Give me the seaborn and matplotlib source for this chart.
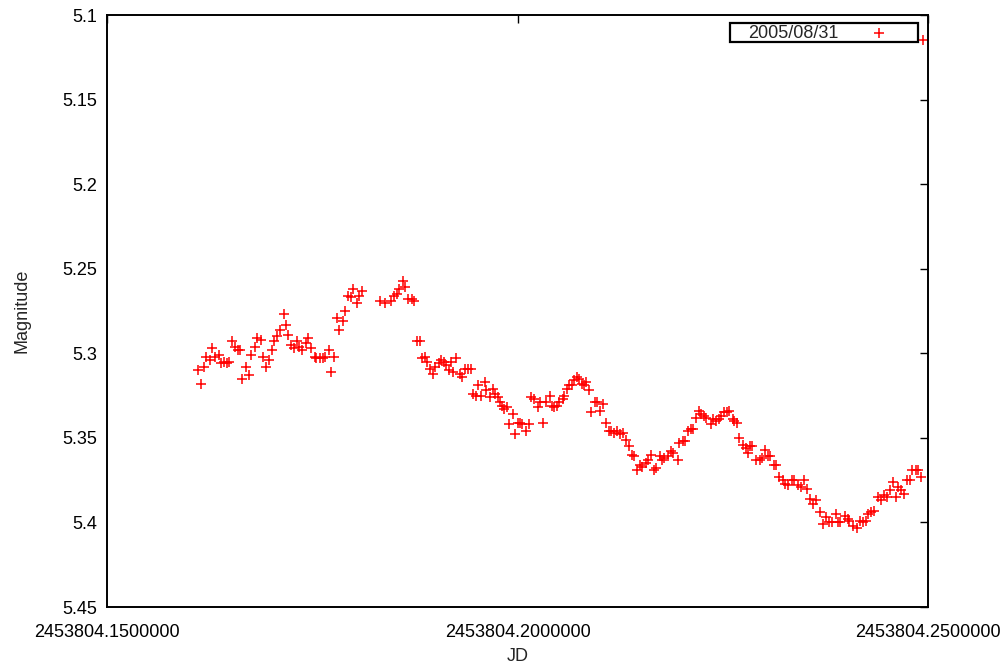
# Import libraries
import numpy as np
import pandas as pd
import matplotlib
matplotlib.use('Agg')
import matplotlib.pyplot as plt
from matplotlib.patches import Rectangle
import seaborn as sns

# Light curve data
jd_base = 2453804.0
jd_offset = [0.1611, 0.1615, 0.1618, 0.1621, 0.1625, 0.1628, 0.1632, 0.1636, 0.1639, 0.1643,
             0.1646, 0.1649, 0.1652, 0.1656, 0.1659, 0.1662, 0.1665, 0.1669, 0.1673, 0.1676,
             0.1680, 0.1683, 0.1687, 0.1690, 0.1694, 0.1697, 0.1701, 0.1704, 0.1707, 0.1711,
             0.1715, 0.1718, 0.1721, 0.1724, 0.1728, 0.1731, 0.1734, 0.1738, 0.1742, 0.1745,
             0.1749, 0.1753, 0.1755, 0.1759, 0.1763, 0.1766, 0.1770, 0.1773, 0.1777, 0.1780,
             0.1783, 0.1787, 0.1790, 0.1793, 0.1797, 0.1800, 0.1804, 0.1807, 0.1811, 0.1832,
             0.1839, 0.1846, 0.1850, 0.1853, 0.1856, 0.1860, 0.1863, 0.1867, 0.1871, 0.1874,
             0.1878, 0.1881, 0.1884, 0.1887, 0.1890, 0.1893, 0.1897, 0.1900, 0.1904, 0.1907,
             0.1910, 0.1913, 0.1916, 0.1919, 0.1922, 0.1925, 0.1930, 0.1933, 0.1936, 0.1940,
             0.1943, 0.1946, 0.1949, 0.1952, 0.1956, 0.1960, 0.1962, 0.1967, 0.1970, 0.1973,
             0.1976, 0.1979, 0.1981, 0.1984, 0.1987, 0.1990, 0.1994, 0.1997, 0.2000, 0.2003,
             0.2006, 0.2010, 0.2014, 0.2017, 0.2020, 0.2025, 0.2028, 0.2031, 0.2035, 0.2039,
             0.2042, 0.2045, 0.2048, 0.2051, 0.2055, 0.2057, 0.2060, 0.2063, 0.2066, 0.2069,
             0.2072, 0.2075, 0.2078, 0.2081, 0.2083, 0.2087, 0.2090, 0.2094, 0.2097, 0.2100,
             0.2104, 0.2108, 0.2111, 0.2114, 0.2118, 0.2121, 0.2125, 0.2129, 0.2132, 0.2136,
             0.2140, 0.2142, 0.2146, 0.2149, 0.2152, 0.2157, 0.2159, 0.2162, 0.2166, 0.2169,
             0.2173, 0.2176, 0.2179, 0.2183, 0.2187, 0.2190, 0.2195, 0.2197, 0.2201, 0.2204,
             0.2208, 0.2211, 0.2214, 0.2218, 0.2221, 0.2224, 0.2227, 0.2230, 0.2236, 0.2238,
             0.2242, 0.2245, 0.2248, 0.2252, 0.2255, 0.2258, 0.2262, 0.2264, 0.2267, 0.2270,
             0.2275, 0.2278, 0.2281, 0.2283, 0.2286, 0.2291, 0.2295, 0.2298, 0.2301, 0.2305,
             0.2308, 0.2312, 0.2315, 0.2318, 0.2323, 0.2326, 0.2329, 0.2334, 0.2337, 0.2342,
             0.2345, 0.2349, 0.2353, 0.2356, 0.2360, 0.2363, 0.2368, 0.2372, 0.2376, 0.2379,
             0.2383, 0.2388, 0.2390, 0.2393, 0.2399, 0.2402, 0.2404, 0.2409, 0.2413, 0.2417,
             0.2421, 0.2424, 0.2427, 0.2430, 0.2434, 0.2439, 0.2443, 0.2447, 0.2450, 0.2454,
             0.2457, 0.2461, 0.2464, 0.2467, 0.2471, 0.2475, 0.2478, 0.2481, 0.2485, 0.2488,
             0.2491, 0.2494]

magnitude = [5.310, 5.318, 5.308, 5.302, 5.304, 5.297, 5.302, 5.301, 5.306, 5.305,
             5.306, 5.305, 5.293, 5.296, 5.298, 5.298, 5.315, 5.308, 5.313, 5.301,
             5.296, 5.291, 5.292, 5.302, 5.308, 5.304, 5.298, 5.293, 5.290, 5.286,
             5.277, 5.283, 5.289, 5.295, 5.297, 5.293, 5.296, 5.298, 5.294, 5.291,
             5.297, 5.302, 5.303, 5.303, 5.303, 5.302, 5.298, 5.311, 5.302, 5.279,
             5.286, 5.281, 5.275, 5.266, 5.267, 5.262, 5.270, 5.266, 5.263, 5.269,
             5.270, 5.269, 5.266, 5.265, 5.262, 5.257, 5.261, 5.268, 5.268, 5.269,
             5.293, 5.293, 5.303, 5.302, 5.305, 5.309, 5.312, 5.308, 5.306, 5.304,
             5.305, 5.307, 5.310, 5.305, 5.311, 5.303, 5.312, 5.314, 5.309, 5.309,
             5.309, 5.324, 5.325, 5.319, 5.325, 5.317, 5.322, 5.326, 5.321, 5.324,
             5.326, 5.329, 5.331, 5.333, 5.332, 5.342, 5.336, 5.348, 5.341, 5.341,
             5.342, 5.346, 5.342, 5.326, 5.327, 5.332, 5.329, 5.341, 5.329, 5.325,
             5.331, 5.332, 5.331, 5.329, 5.327, 5.325, 5.321, 5.319, 5.319, 5.316,
             5.314, 5.315, 5.318, 5.319, 5.317, 5.322, 5.335, 5.329, 5.329, 5.334,
             5.330, 5.341, 5.346, 5.346, 5.347, 5.346, 5.348, 5.347, 5.351, 5.355,
             5.360, 5.361, 5.369, 5.366, 5.367, 5.365, 5.363, 5.360, 5.369, 5.368,
             5.361, 5.363, 5.362, 5.361, 5.358, 5.359, 5.363, 5.353, 5.352, 5.352,
             5.346, 5.345, 5.345, 5.338, 5.334, 5.336, 5.337, 5.338, 5.342, 5.339,
             5.340, 5.339, 5.337, 5.335, 5.335, 5.334, 5.339, 5.340, 5.341, 5.350,
             5.354, 5.356, 5.359, 5.355, 5.355, 5.363, 5.363, 5.362, 5.357, 5.361,
             5.361, 5.366, 5.366, 5.373, 5.375, 5.377, 5.378, 5.375, 5.375, 5.378,
             5.379, 5.375, 5.380, 5.386, 5.389, 5.387, 5.394, 5.401, 5.397, 5.400,
             5.400, 5.395, 5.400, 5.400, 5.396, 5.398, 5.399, 5.402, 5.403, 5.399,
             5.400, 5.399, 5.395, 5.394, 5.393, 5.385, 5.387, 5.384, 5.385, 5.381,
             5.376, 5.385, 5.379, 5.381, 5.383, 5.375, 5.375, 5.369, 5.369, 5.369,
             5.373, 5.115]

series_label = '2005/08/31'
x_ticks = [0.15, 0.20, 0.25]
y_ticks = [5.10, 5.15, 5.20, 5.25, 5.30, 5.35, 5.40, 5.45]
y_tick_labels = ['5.1', '5.15', '5.2', '5.25', '5.3', '5.35', '5.4', '5.45']

df = pd.DataFrame({'JD': jd_base + np.array(jd_offset), 'Magnitude': magnitude})

# Gnuplot-like look
sns.set_style('white')
plt.rcParams['font.family'] = ['Liberation Sans', 'DejaVu Sans']
fs = 13

fig = plt.figure(figsize=(10.08, 6.67), dpi=100)
ax = fig.add_axes([107/1008, 1 - 607/667, 821/1008, 592/667])

sns.scatterplot(data=df, x='JD', y='Magnitude', marker='+', color='red',
                s=50, linewidth=1.1, label=series_label, ax=ax)

ax.set_xlim(jd_base + 0.15, jd_base + 0.25)
ax.set_ylim(5.45, 5.10)
ax.set_xticks([jd_base + t for t in x_ticks])
ax.set_xticklabels(['%.7f' % (jd_base + t) for t in x_ticks])
ax.set_yticks(y_ticks)
ax.set_yticklabels(y_tick_labels)

ax.tick_params(direction='in', length=6, width=1, top=True, right=True,
               labelsize=fs, colors='black')
ax.tick_params(axis='x', pad=12)
ax.tick_params(axis='y', pad=7)
for sp in ax.spines.values():
    sp.set_linewidth(1.4)
    sp.set_color('black')

ax.set_xlabel('JD', fontsize=fs, labelpad=5)
ax.set_ylabel('Magnitude', fontsize=fs, labelpad=23)

# Legend: text first, sample on the right, inside a plain box
leg = ax.legend(loc='center left', bbox_to_anchor=(748/1008, 1 - 33/667),
                bbox_transform=fig.transFigure, markerfirst=False,
                frameon=False, fontsize=fs, borderpad=0, handlelength=2,
                handletextpad=1.25, borderaxespad=0)
fig.add_artist(Rectangle((730/1008, 1 - 42/667), 188/1008, 19/667,
                         transform=fig.transFigure, fill=False,
                         edgecolor='black', linewidth=1.6, zorder=5))

plt.savefig('out.png', dpi=100)
